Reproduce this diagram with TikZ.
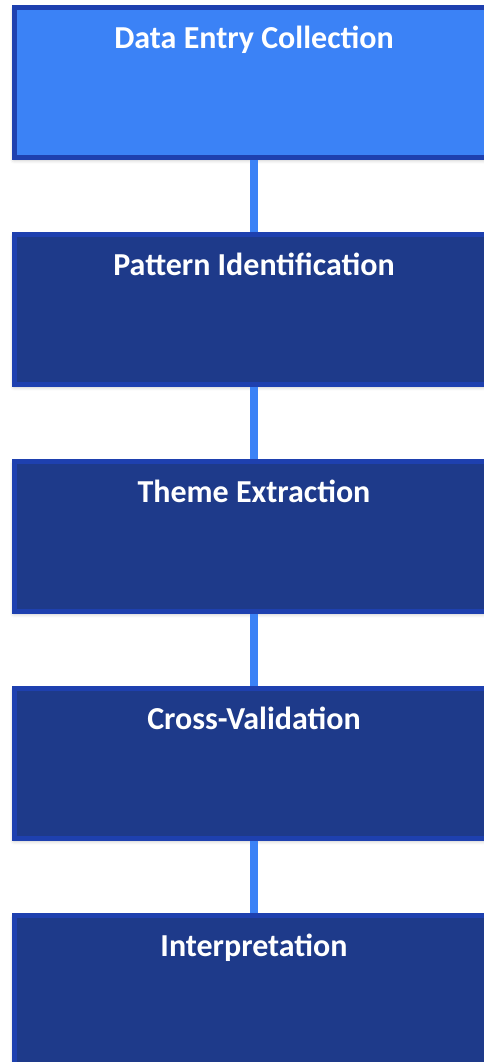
\documentclass[tikz,border=0pt]{standalone}
\usepackage{fontspec}
\setmainfont{Carlito}
\usepackage{xcolor}
\usetikzlibrary{positioning, shadows.blur}

\definecolor{stepblue}{HTML}{3B82F6}
\definecolor{stepnavy}{HTML}{1E3A8A}
\definecolor{stepedge}{HTML}{1E40AF}

\begin{document}
\begin{tikzpicture}[
    x=0.75pt, y=-0.75pt,
    node distance=54pt,
    stage/.style={rectangle, draw=stepedge, fill=stepnavy, line width=3.75pt, minimum width=360pt, minimum height=112.5pt, inner sep=0pt,
        blur shadow={shadow xshift=0pt, shadow yshift=-1.5pt, shadow blur radius=3pt, shadow opacity=30}},
    title/.style={anchor=base, text=white, font=\fontsize{24pt}{28pt}\selectfont\bfseries, inner sep=0pt},
    link/.style={draw=stepblue, line width=6pt}
]
    \useasboundingbox (0,0) rectangle (483,1062);

    \node[stage, fill=stepblue] (collect) at (254,82.7) {};
    \node[stage, below=of collect] (pattern) {};
    \node[stage, below=of pattern] (theme) {};
    \node[stage, below=of theme] (cross) {};
    \node[stage, below=of cross] (interp) {};

    % Titles near the top of each box
    \node[title] (collect-t) at ([yshift=-32.25pt]collect.north) {Data Entry Collection};
    \node[title] (pattern-t) at ([yshift=-32.25pt]pattern.north) {Pattern Identification};
    \node[title] (theme-t) at ([yshift=-32.25pt]theme.north) {Theme Extraction};
    \node[title] (cross-t) at ([yshift=-32.25pt]cross.north) {Cross-Validation};
    \node[title] (interp-t) at ([yshift=-32.25pt]interp.north) {Interpretation};

    \draw[link] (collect) -- (pattern);
    \draw[link] (pattern) -- (theme);
    \draw[link] (theme) -- (cross);
    \draw[link] (cross) -- (interp);
\end{tikzpicture}
\end{document}
